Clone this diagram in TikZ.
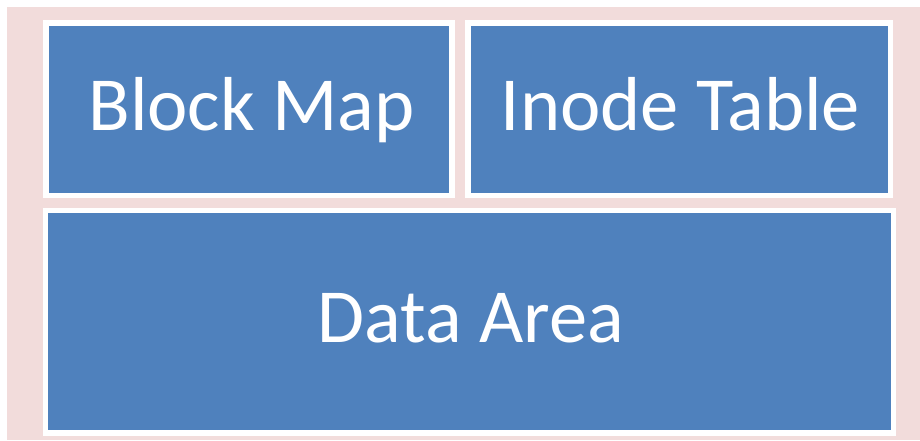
\documentclass[tikz,border=0pt]{standalone}
\usepackage{fontspec}
\setmainfont{Carlito}
\definecolor{panelpink}{HTML}{F2DCDB}
\definecolor{blockblue}{HTML}{4F81BD}
\begin{document}
\begin{tikzpicture}[x=1pt,y=-1pt,
  region/.style={draw=white, line width=5.5pt, fill=blockblue},
  label/.style={text=white, font=\fontsize{76.5}{82}\selectfont, anchor=base, inner sep=0pt}]
  \useasboundingbox (0,0) rectangle (920,440);
  % background panel
  \fill[panelpink] (7,7) rectangle (920,440);
  % regions of the disk layout
  \draw[region] (46,23) rectangle (452,195.5);
  \draw[region] (468,23) rectangle (890.5,195.5);
  \draw[region] (45.5,210.5) rectangle (893.5,433);
  \node[label] (bmap) at (251.5,130.5) {Block Map};
  \node[label] (itab) at (680.5,130.5) {Inode Table};
  \node[label] (data) at (471,342) {Data Area};
\end{tikzpicture}
\end{document}
